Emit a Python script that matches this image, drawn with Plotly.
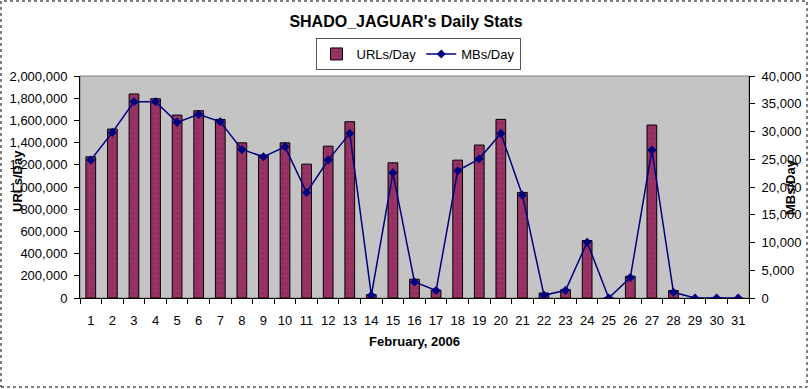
import plotly.graph_objects as go

days = [str(d) for d in range(1, 32)]
urls_per_day = [1272000, 1522000, 1838000, 1795000, 1648000, 1687000, 1609000, 1398000, 1287000, 1398000,
                1206000, 1368000, 1588000, 30000, 1218000, 169000, 72000, 1242000, 1378000, 1609000,
                951000, 45000, 76000, 518000, 0, 196000, 1558000, 67000, 0, 0, 0]
mbs_per_day = [24850, 29840, 35360, 35360, 31650, 33090, 31750, 26770, 25440, 27240,
               19010, 24850, 29660, 490, 22550, 2890, 1340, 22910, 25080, 29660,
               18530, 490, 1380, 10050, 0, 3680, 26650, 1030, 0, 0, 0]

W, H = 809, 389
L, R, T, B = 80, 60, 76, 91
pw, ph = W - L - R, H - T - B

def px(x):
    return (x - L) / pw

def py(y):
    return (H - B - y) / ph

FONT = "Liberation Sans, Arial, sans-serif"

fig = go.Figure()
fig.add_trace(go.Bar(
    x=days, y=urls_per_day, name="URLs/Day",
    marker=dict(color="#993366", line=dict(color="black", width=1),
                pattern=dict(shape=".", fgcolor="#6e2048", size=5, solidity=0.15, fillmode="overlay")),
    yaxis="y",
))
fig.add_trace(go.Scatter(
    x=days, y=mbs_per_day, name="MBs/Day", mode="lines+markers",
    line=dict(color="#000080", width=1.5),
    marker=dict(symbol="diamond", size=7, color="#000080"),
    yaxis="y2",
))

fig.update_layout(
    width=W, height=H,
    margin=dict(l=L, r=R, t=T, b=B, pad=0, autoexpand=False),
    paper_bgcolor="white",
    plot_bgcolor="#c4c4c4",
    font=dict(family=FONT, size=13, color="black"),
    bargap=0.55,
    showlegend=True,
    title=dict(text="<b>SHADO_JAGUAR's Daily Stats</b>", x=px(406), xanchor="center",
               y=1 - 21 / H, yanchor="middle", xref="paper", font=dict(size=16)),
    legend=dict(orientation="h", x=px(418), xanchor="center", y=py(38), yanchor="top",
                bordercolor="#555555", borderwidth=1, bgcolor="white",
                font=dict(size=13), itemwidth=30, traceorder="normal"),
    xaxis=dict(
        type="category", range=[-0.5, 30.5], tickson="boundaries", ticks="outside", ticklen=5,
        tickcolor="black",
        showline=True, linecolor="black", showgrid=False, tickangle=0, automargin=False,
        ticklabelstandoff=10,
        title=dict(text="<b>February, 2006</b>", font=dict(size=13), standoff=10),
    ),
    yaxis=dict(
        range=[0, 2000000], dtick=200000, tickformat=",", ticks="outside", ticklen=5,
        tickcolor="black", showline=True, linecolor="black", showgrid=False, zeroline=False,
        ticklabelstandoff=4, automargin=False,
    ),
    yaxis2=dict(
        range=[0, 40000], dtick=5000, tickformat=",", ticks="outside", ticklen=5,
        tickcolor="black", showline=True, linecolor="black", showgrid=False, zeroline=False,
        overlaying="y", side="right", ticklabelstandoff=4, automargin=False,
    ),
    annotations=[
        dict(text="<b>URLs/Day</b>", x=px(17), y=py(181), xref="paper", yref="paper",
             textangle=-90, showarrow=False, font=dict(size=13), xanchor="center", yanchor="middle"),
        dict(text="<b>MBs/Day</b>", x=px(790), y=py(187), xref="paper", yref="paper",
             textangle=-90, showarrow=False, font=dict(size=13), xanchor="center", yanchor="middle"),
    ],
    shapes=[
        dict(type="rect", xref="paper", yref="paper", x0=px(1), x1=px(807), y0=py(387), y1=py(1),
             line=dict(color="black", width=1, dash="dot"), layer="above"),
        dict(type="rect", xref="paper", yref="paper", x0=0, x1=1, y0=0, y1=1,
             line=dict(color="#808080", width=1), layer="below"),
    ],
)

fig.write_html("out.html", config={"displayModeBar": False},
               post_script="document.body.style.margin='0';document.body.style.overflow='hidden';")
